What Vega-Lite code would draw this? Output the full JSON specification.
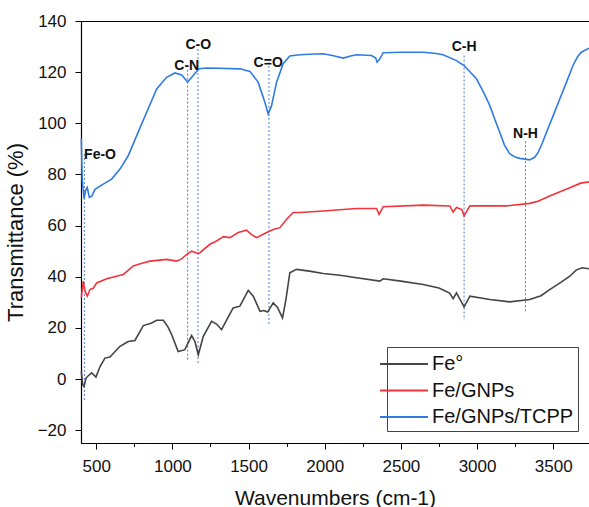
{
  "$schema": "https://vega.github.io/schema/vega-lite/v6.json",
  "width": 508,
  "height": 422,
  "autosize": {"type": "none"},
  "padding": {"left": 81, "top": 21, "right": 0, "bottom": 64},
  "config": {"view": {"stroke": "black", "strokeWidth": 1}, "font": "Liberation Sans"},
  "datasets": {
    "spectra": [
      {"s": "Fe°", "wn": 402, "t": 3}, {"s": "Fe°", "wn": 411, "t": -2.2}, {"s": "Fe°", "wn": 420, "t": -2.9}, {"s": "Fe°", "wn": 433, "t": 0.4}, {"s": "Fe°", "wn": 448, "t": 1.3}, {"s": "Fe°", "wn": 470, "t": 2.4}, {"s": "Fe°", "wn": 498, "t": 0.8}, {"s": "Fe°", "wn": 525, "t": 4.9}, {"s": "Fe°", "wn": 557, "t": 8.2}, {"s": "Fe°", "wn": 590, "t": 8.6}, {"s": "Fe°", "wn": 656, "t": 12.8}, {"s": "Fe°", "wn": 710, "t": 14.7}, {"s": "Fe°", "wn": 754, "t": 15.1}, {"s": "Fe°", "wn": 809, "t": 20.9}, {"s": "Fe°", "wn": 860, "t": 21.8}, {"s": "Fe°", "wn": 897, "t": 23}, {"s": "Fe°", "wn": 940, "t": 23}, {"s": "Fe°", "wn": 970, "t": 20.5}, {"s": "Fe°", "wn": 995, "t": 17.4}, {"s": "Fe°", "wn": 1038, "t": 10.8}, {"s": "Fe°", "wn": 1082, "t": 11.5}, {"s": "Fe°", "wn": 1110, "t": 15}, {"s": "Fe°", "wn": 1126, "t": 17}, {"s": "Fe°", "wn": 1148, "t": 14.7}, {"s": "Fe°", "wn": 1170, "t": 9.5}, {"s": "Fe°", "wn": 1203, "t": 16.7}, {"s": "Fe°", "wn": 1257, "t": 22.6}, {"s": "Fe°", "wn": 1290, "t": 21.5}, {"s": "Fe°", "wn": 1323, "t": 19.3}, {"s": "Fe°", "wn": 1360, "t": 23.5}, {"s": "Fe°", "wn": 1399, "t": 27.8}, {"s": "Fe°", "wn": 1443, "t": 28.5}, {"s": "Fe°", "wn": 1498, "t": 34.7}, {"s": "Fe°", "wn": 1531, "t": 32.4}, {"s": "Fe°", "wn": 1575, "t": 26.5}, {"s": "Fe°", "wn": 1600, "t": 26.8}, {"s": "Fe°", "wn": 1625, "t": 26.2}, {"s": "Fe°", "wn": 1662, "t": 29.8}, {"s": "Fe°", "wn": 1690, "t": 28}, {"s": "Fe°", "wn": 1723, "t": 23.9}, {"s": "Fe°", "wn": 1745, "t": 31}, {"s": "Fe°", "wn": 1771, "t": 41.6}, {"s": "Fe°", "wn": 1815, "t": 42.9}, {"s": "Fe°", "wn": 1900, "t": 42.2}, {"s": "Fe°", "wn": 1990, "t": 41.3}, {"s": "Fe°", "wn": 2100, "t": 40.6}, {"s": "Fe°", "wn": 2209, "t": 39.6}, {"s": "Fe°", "wn": 2362, "t": 38.3}, {"s": "Fe°", "wn": 2384, "t": 39.2}, {"s": "Fe°", "wn": 2500, "t": 38.3}, {"s": "Fe°", "wn": 2646, "t": 37}, {"s": "Fe°", "wn": 2750, "t": 35.6}, {"s": "Fe°", "wn": 2820, "t": 33.6}, {"s": "Fe°", "wn": 2843, "t": 31.4}, {"s": "Fe°", "wn": 2865, "t": 33.7}, {"s": "Fe°", "wn": 2915, "t": 28.2}, {"s": "Fe°", "wn": 2953, "t": 32.4}, {"s": "Fe°", "wn": 3084, "t": 31.1}, {"s": "Fe°", "wn": 3215, "t": 30.2}, {"s": "Fe°", "wn": 3346, "t": 31.1}, {"s": "Fe°", "wn": 3420, "t": 32.6}, {"s": "Fe°", "wn": 3477, "t": 35}, {"s": "Fe°", "wn": 3550, "t": 37.8}, {"s": "Fe°", "wn": 3609, "t": 40.2}, {"s": "Fe°", "wn": 3650, "t": 42.6}, {"s": "Fe°", "wn": 3690, "t": 43.5}, {"s": "Fe°", "wn": 3735, "t": 43.1},
      {"s": "Fe/GNPs", "wn": 402, "t": 31.8}, {"s": "Fe/GNPs", "wn": 415, "t": 38.3}, {"s": "Fe/GNPs", "wn": 426, "t": 34.4}, {"s": "Fe/GNPs", "wn": 441, "t": 32.4}, {"s": "Fe/GNPs", "wn": 459, "t": 35}, {"s": "Fe/GNPs", "wn": 480, "t": 35.5}, {"s": "Fe/GNPs", "wn": 503, "t": 37.6}, {"s": "Fe/GNPs", "wn": 569, "t": 39.2}, {"s": "Fe/GNPs", "wn": 620, "t": 40}, {"s": "Fe/GNPs", "wn": 678, "t": 40.9}, {"s": "Fe/GNPs", "wn": 743, "t": 44.2}, {"s": "Fe/GNPs", "wn": 800, "t": 45.3}, {"s": "Fe/GNPs", "wn": 853, "t": 46.1}, {"s": "Fe/GNPs", "wn": 962, "t": 46.8}, {"s": "Fe/GNPs", "wn": 1028, "t": 46.1}, {"s": "Fe/GNPs", "wn": 1060, "t": 47}, {"s": "Fe/GNPs", "wn": 1094, "t": 48.7}, {"s": "Fe/GNPs", "wn": 1126, "t": 50}, {"s": "Fe/GNPs", "wn": 1150, "t": 49.5}, {"s": "Fe/GNPs", "wn": 1170, "t": 49.1}, {"s": "Fe/GNPs", "wn": 1181, "t": 49.4}, {"s": "Fe/GNPs", "wn": 1246, "t": 52.7}, {"s": "Fe/GNPs", "wn": 1290, "t": 54}, {"s": "Fe/GNPs", "wn": 1334, "t": 55.7}, {"s": "Fe/GNPs", "wn": 1378, "t": 55.3}, {"s": "Fe/GNPs", "wn": 1432, "t": 57.3}, {"s": "Fe/GNPs", "wn": 1487, "t": 58.2}, {"s": "Fe/GNPs", "wn": 1520, "t": 56.5}, {"s": "Fe/GNPs", "wn": 1553, "t": 55.3}, {"s": "Fe/GNPs", "wn": 1619, "t": 57.3}, {"s": "Fe/GNPs", "wn": 1662, "t": 58.5}, {"s": "Fe/GNPs", "wn": 1706, "t": 59.2}, {"s": "Fe/GNPs", "wn": 1750, "t": 62.5}, {"s": "Fe/GNPs", "wn": 1793, "t": 65.1}, {"s": "Fe/GNPs", "wn": 1837, "t": 65.1}, {"s": "Fe/GNPs", "wn": 1990, "t": 65.7}, {"s": "Fe/GNPs", "wn": 2209, "t": 66.7}, {"s": "Fe/GNPs", "wn": 2340, "t": 66.7}, {"s": "Fe/GNPs", "wn": 2357, "t": 64.4}, {"s": "Fe/GNPs", "wn": 2384, "t": 67.4}, {"s": "Fe/GNPs", "wn": 2646, "t": 68}, {"s": "Fe/GNPs", "wn": 2821, "t": 67.7}, {"s": "Fe/GNPs", "wn": 2843, "t": 65.3}, {"s": "Fe/GNPs", "wn": 2865, "t": 67.1}, {"s": "Fe/GNPs", "wn": 2900, "t": 66.3}, {"s": "Fe/GNPs", "wn": 2915, "t": 63.8}, {"s": "Fe/GNPs", "wn": 2953, "t": 67.7}, {"s": "Fe/GNPs", "wn": 3193, "t": 67.7}, {"s": "Fe/GNPs", "wn": 3346, "t": 68.7}, {"s": "Fe/GNPs", "wn": 3400, "t": 69.5}, {"s": "Fe/GNPs", "wn": 3477, "t": 71.6}, {"s": "Fe/GNPs", "wn": 3609, "t": 74.8}, {"s": "Fe/GNPs", "wn": 3680, "t": 76.6}, {"s": "Fe/GNPs", "wn": 3735, "t": 77.1},
      {"s": "Fe/GNPs/TCPP", "wn": 402, "t": 94}, {"s": "Fe/GNPs/TCPP", "wn": 408, "t": 78}, {"s": "Fe/GNPs/TCPP", "wn": 420, "t": 70.6}, {"s": "Fe/GNPs/TCPP", "wn": 432, "t": 74}, {"s": "Fe/GNPs/TCPP", "wn": 441, "t": 74.9}, {"s": "Fe/GNPs/TCPP", "wn": 455, "t": 71}, {"s": "Fe/GNPs/TCPP", "wn": 470, "t": 71.4}, {"s": "Fe/GNPs/TCPP", "wn": 492, "t": 74.2}, {"s": "Fe/GNPs/TCPP", "wn": 546, "t": 76.2}, {"s": "Fe/GNPs/TCPP", "wn": 601, "t": 78.2}, {"s": "Fe/GNPs/TCPP", "wn": 656, "t": 82.1}, {"s": "Fe/GNPs/TCPP", "wn": 710, "t": 87.3}, {"s": "Fe/GNPs/TCPP", "wn": 765, "t": 95.1}, {"s": "Fe/GNPs/TCPP", "wn": 831, "t": 104.3}, {"s": "Fe/GNPs/TCPP", "wn": 897, "t": 113.4}, {"s": "Fe/GNPs/TCPP", "wn": 962, "t": 118}, {"s": "Fe/GNPs/TCPP", "wn": 1017, "t": 119.7}, {"s": "Fe/GNPs/TCPP", "wn": 1061, "t": 118.9}, {"s": "Fe/GNPs/TCPP", "wn": 1100, "t": 116.1}, {"s": "Fe/GNPs/TCPP", "wn": 1137, "t": 118.7}, {"s": "Fe/GNPs/TCPP", "wn": 1174, "t": 121.3}, {"s": "Fe/GNPs/TCPP", "wn": 1225, "t": 121.6}, {"s": "Fe/GNPs/TCPP", "wn": 1300, "t": 121.5}, {"s": "Fe/GNPs/TCPP", "wn": 1443, "t": 121.3}, {"s": "Fe/GNPs/TCPP", "wn": 1509, "t": 120.3}, {"s": "Fe/GNPs/TCPP", "wn": 1563, "t": 116.1}, {"s": "Fe/GNPs/TCPP", "wn": 1607, "t": 108.2}, {"s": "Fe/GNPs/TCPP", "wn": 1629, "t": 103.6}, {"s": "Fe/GNPs/TCPP", "wn": 1651, "t": 106.9}, {"s": "Fe/GNPs/TCPP", "wn": 1684, "t": 116.1}, {"s": "Fe/GNPs/TCPP", "wn": 1727, "t": 123.3}, {"s": "Fe/GNPs/TCPP", "wn": 1771, "t": 126.3}, {"s": "Fe/GNPs/TCPP", "wn": 1837, "t": 126.8}, {"s": "Fe/GNPs/TCPP", "wn": 1900, "t": 127}, {"s": "Fe/GNPs/TCPP", "wn": 1990, "t": 127.2}, {"s": "Fe/GNPs/TCPP", "wn": 2050, "t": 126.5}, {"s": "Fe/GNPs/TCPP", "wn": 2121, "t": 125.5}, {"s": "Fe/GNPs/TCPP", "wn": 2170, "t": 126.3}, {"s": "Fe/GNPs/TCPP", "wn": 2209, "t": 126.8}, {"s": "Fe/GNPs/TCPP", "wn": 2307, "t": 126.5}, {"s": "Fe/GNPs/TCPP", "wn": 2335, "t": 125.5}, {"s": "Fe/GNPs/TCPP", "wn": 2344, "t": 123.9}, {"s": "Fe/GNPs/TCPP", "wn": 2360, "t": 125}, {"s": "Fe/GNPs/TCPP", "wn": 2384, "t": 127.6}, {"s": "Fe/GNPs/TCPP", "wn": 2500, "t": 127.8}, {"s": "Fe/GNPs/TCPP", "wn": 2646, "t": 127.8}, {"s": "Fe/GNPs/TCPP", "wn": 2720, "t": 127.4}, {"s": "Fe/GNPs/TCPP", "wn": 2777, "t": 126.8}, {"s": "Fe/GNPs/TCPP", "wn": 2865, "t": 124.5}, {"s": "Fe/GNPs/TCPP", "wn": 2915, "t": 122.6}, {"s": "Fe/GNPs/TCPP", "wn": 2996, "t": 117.4}, {"s": "Fe/GNPs/TCPP", "wn": 3040, "t": 112.5}, {"s": "Fe/GNPs/TCPP", "wn": 3084, "t": 106.9}, {"s": "Fe/GNPs/TCPP", "wn": 3120, "t": 101}, {"s": "Fe/GNPs/TCPP", "wn": 3149, "t": 96.5}, {"s": "Fe/GNPs/TCPP", "wn": 3180, "t": 91.5}, {"s": "Fe/GNPs/TCPP", "wn": 3215, "t": 88}, {"s": "Fe/GNPs/TCPP", "wn": 3250, "t": 86.8}, {"s": "Fe/GNPs/TCPP", "wn": 3281, "t": 86.3}, {"s": "Fe/GNPs/TCPP", "wn": 3346, "t": 85.7}, {"s": "Fe/GNPs/TCPP", "wn": 3380, "t": 86.8}, {"s": "Fe/GNPs/TCPP", "wn": 3401, "t": 88.6}, {"s": "Fe/GNPs/TCPP", "wn": 3430, "t": 92.5}, {"s": "Fe/GNPs/TCPP", "wn": 3456, "t": 96.5}, {"s": "Fe/GNPs/TCPP", "wn": 3500, "t": 103}, {"s": "Fe/GNPs/TCPP", "wn": 3543, "t": 109.5}, {"s": "Fe/GNPs/TCPP", "wn": 3590, "t": 116.5}, {"s": "Fe/GNPs/TCPP", "wn": 3630, "t": 122.6}, {"s": "Fe/GNPs/TCPP", "wn": 3660, "t": 126}, {"s": "Fe/GNPs/TCPP", "wn": 3685, "t": 127.8}, {"s": "Fe/GNPs/TCPP", "wn": 3735, "t": 129.4}
    ],
    "marks": [
      {"label": "Fe-O", "wn": 422, "top": 88, "bottom": -9, "lx": 525, "ly": 87.5},
      {"label": "C-N", "wn": 1100, "top": 121, "bottom": 7, "lx": 1094, "ly": 122.6},
      {"label": "C-O", "wn": 1168, "top": 129, "bottom": 5.5, "lx": 1170, "ly": 130.8},
      {"label": "C=O", "wn": 1634, "top": 124, "bottom": 21, "lx": 1629, "ly": 123.5},
      {"label": "C-H", "wn": 2915, "top": 126.5, "bottom": 23, "lx": 2915, "ly": 129.8},
      {"label": "N-H", "wn": 3318, "top": 93, "bottom": 26.5, "lx": 3318, "ly": 95.8}
    ]
  },
  "layer": [
    {
      "data": {"name": "marks"},
      "mark": {"type": "rule", "strokeDash": [2, 2], "color": "#4a7bd4", "strokeWidth": 1},
      "encoding": {
        "x": {"field": "wn", "type": "quantitative", "title": "Wavenumbers (cm-1)"},
        "y": {"field": "top", "type": "quantitative", "title": "Transmittance (%)"},
        "y2": {"field": "bottom"}
      }
    },
    {
      "data": {"name": "spectra"},
      "mark": {"type": "line", "strokeWidth": 1.6},
      "encoding": {
        "x": {
          "field": "wn", "type": "quantitative", "title": "Wavenumbers (cm-1)",
          "scale": {"domain": [400, 3735], "nice": false, "zero": false},
          "axis": {
            "titleFontSize": 21, "titleFontWeight": "normal", "titleColor": "#111", "titlePadding": 13,
            "values": [500, 750, 1000, 1250, 1500, 1750, 2000, 2250, 2500, 2750, 3000, 3250, 3500],
            "labelExpr": "datum.value % 500 === 0 ? datum.label : ''",
            "format": "d",
            "tickSize": {"condition": {"test": "datum.value % 500 === 0", "value": 6}, "value": 3.5},
            "labelFontSize": 17, "labelColor": "#111", "labelPadding": 9,
            "domainColor": "black", "tickColor": "black", "domainWidth": 1.2, "grid": false
          }
        },
        "y": {
          "field": "t", "type": "quantitative", "title": "Transmittance (%)",
          "scale": {"domain": [-25, 140], "nice": false, "zero": false},
          "axis": {
            "titleFontSize": 22, "titleFontWeight": "normal", "titleColor": "#111", "titlePadding": 10,
            "values": [-20, -10, 0, 10, 20, 30, 40, 50, 60, 70, 80, 90, 100, 110, 120, 130, 140],
            "labelExpr": "datum.value % 20 === 0 ? datum.label : ''",
            "tickSize": {"condition": {"test": "datum.value % 20 === 0", "value": 6}, "value": 3.5},
            "labelFontSize": 17, "labelColor": "#111", "labelPadding": 9,
            "domainColor": "black", "tickColor": "black", "domainWidth": 1.2, "grid": false
          }
        },
        "color": {
          "field": "s", "type": "nominal",
          "scale": {"domain": ["Fe°", "Fe/GNPs", "Fe/GNPs/TCPP"], "range": ["#444444", "#f2333a", "#2f7be3"]},
          "legend": {
            "orient": "none", "legendX": 306, "legendY": 326, "title": null,
            "symbolType": "M-2,0L2,0", "symbolSize": 576, "symbolStrokeWidth": 2,
            "labelFontSize": 20, "labelColor": "#111", "labelOffset": 15,
            "strokeColor": "#444", "fillColor": "white", "padding": 4, "rowPadding": 3.5
          }
        }
      }
    },
    {
      "data": {"name": "marks"},
      "mark": {"type": "text", "fontWeight": "bold", "fontSize": 14, "color": "#111", "align": "center", "baseline": "middle"},
      "encoding": {
        "x": {"field": "lx", "type": "quantitative", "title": "Wavenumbers (cm-1)"},
        "y": {"field": "ly", "type": "quantitative", "title": "Transmittance (%)"},
        "text": {"field": "label"}
      }
    }
  ]
}
